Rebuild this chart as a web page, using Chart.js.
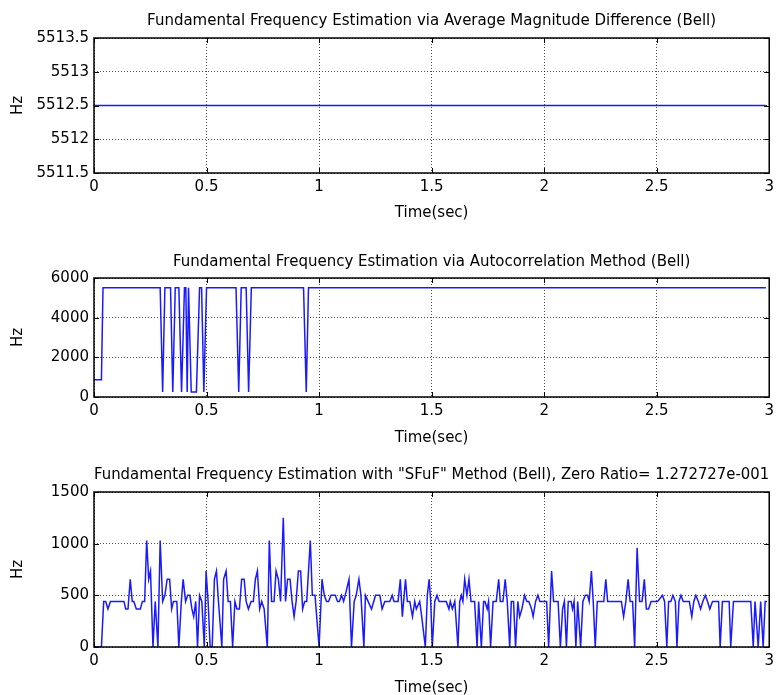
<!DOCTYPE html>
<html>
<head>
<meta charset="utf-8">
<script src="https://cdn.jsdelivr.net/npm/chart.js@4.4.0/dist/chart.umd.min.js"></script>
<style>
  html, body { margin: 0; padding: 0; background: #fff; }
  #page { position: relative; width: 779px; height: 695px; overflow: hidden; }
  .panel { position: absolute; left: 0; }
</style>
</head>
<body>
<div id="page">
  <div class="panel" style="top:0px"><canvas id="chartAmdf" width="779" height="225"></canvas></div>
  <div class="panel" style="top:240px"><canvas id="chartAcf" width="779" height="210"></canvas></div>
  <div class="panel" style="top:454px"><canvas id="chartSfuf" width="779" height="243"></canvas></div>
</div>
<script>
// tick values
const timeTicks = [0, 0.5, 1, 1.5, 2, 2.5, 3];
const amdfTicks = [5511.5, 5512, 5512.5, 5513, 5513.5];
const acfTicks = [0, 2000, 4000, 6000];
const sfufTicks = [0, 500, 1000, 1500];

// AMDF estimate: flat over the whole file
const amdfTime = [0, 2.985];
const amdfHz = [5512.5, 5512.5];

// autocorrelation estimate (break points of the trace)
const acfTime = [0, 0.033, 0.040, 0.294, 0.305, 0.315, 0.340, 0.350, 0.361, 0.377,
  0.389, 0.402, 0.408, 0.414, 0.420, 0.432, 0.455, 0.469, 0.478, 0.488,
  0.500, 0.631, 0.643, 0.654, 0.676, 0.687, 0.699, 0.931, 0.943, 0.953, 2.985];
const acfHz = [870, 870, 5512.5, 5512.5, 250, 5512.5, 5512.5, 250, 5512.5, 5512.5,
  250, 5512.5, 5512.5, 250, 5512.5, 250, 250, 5512.5, 5512.5, 250,
  5512.5, 5512.5, 250, 5512.5, 5512.5, 250, 5512.5, 5512.5, 250, 5512.5, 5512.5];

// SFuF estimate
const sfufTime = [0, 0.033, 0.043, 0.052, 0.062, 0.073, 0.133, 0.141, 0.151, 0.161,
  0.170, 0.177, 0.188, 0.206, 0.215, 0.225, 0.234, 0.243, 0.251, 0.262,
  0.272, 0.284, 0.294, 0.305, 0.315, 0.325, 0.336, 0.345, 0.353, 0.368,
  0.377, 0.388, 0.396, 0.407, 0.416, 0.426, 0.435, 0.443, 0.452, 0.460,
  0.469, 0.479, 0.490, 0.498, 0.507, 0.516, 0.525, 0.535, 0.544, 0.553,
  0.568, 0.576, 0.587, 0.596, 0.606, 0.616, 0.626, 0.635, 0.646, 0.656,
  0.667, 0.676, 0.686, 0.698, 0.708, 0.717, 0.726, 0.736, 0.745, 0.756,
  0.770, 0.779, 0.789, 0.800, 0.809, 0.819, 0.829, 0.841, 0.851, 0.860,
  0.871, 0.880, 0.889, 0.898, 0.908, 0.918, 0.927, 0.936, 0.945, 0.961,
  0.970, 0.982, 1.000, 1.013, 1.023, 1.033, 1.042, 1.053, 1.072, 1.082,
  1.090, 1.100, 1.109, 1.116, 1.133, 1.144, 1.156, 1.165, 1.177, 1.186,
  1.199, 1.206, 1.233, 1.251, 1.270, 1.280, 1.292, 1.314, 1.325, 1.333,
  1.351, 1.361, 1.370, 1.384, 1.392, 1.403, 1.415, 1.425, 1.432, 1.447,
  1.456, 1.472, 1.481, 1.489, 1.496, 1.503, 1.514, 1.524, 1.533, 1.565,
  1.577, 1.583, 1.592, 1.603, 1.617, 1.625, 1.632, 1.639, 1.647, 1.657,
  1.666, 1.675, 1.691, 1.702, 1.709, 1.721, 1.731, 1.737, 1.747, 1.753,
  1.762, 1.773, 1.787, 1.798, 1.805, 1.817, 1.827, 1.836, 1.847, 1.854,
  1.864, 1.873, 1.883, 1.891, 1.901, 1.913, 1.923, 1.932, 1.944, 1.951,
  1.962, 1.972, 1.981, 2.011, 2.020, 2.033, 2.042, 2.062, 2.072, 2.082,
  2.090, 2.099, 2.107, 2.120, 2.126, 2.133, 2.141, 2.149, 2.162, 2.172,
  2.183, 2.193, 2.200, 2.210, 2.218, 2.227, 2.236, 2.265, 2.274, 2.282,
  2.343, 2.353, 2.363, 2.373, 2.382, 2.393, 2.402, 2.413, 2.424, 2.435,
  2.445, 2.454, 2.464, 2.475, 2.504, 2.526, 2.535, 2.545, 2.553, 2.563,
  2.572, 2.583, 2.590, 2.599, 2.608, 2.618, 2.645, 2.656, 2.665, 2.674,
  2.685, 2.695, 2.705, 2.716, 2.726, 2.736, 2.748, 2.775, 2.782, 2.792,
  2.822, 2.829, 2.841, 2.918, 2.929, 2.937, 2.951, 2.962, 2.973, 2.982,
  2.990];
const sfufHz = [0, 0, 441, 441, 368, 441, 441, 368, 368, 656,
  441, 441, 368, 368, 441, 441, 1030, 656, 735, 0,
  441, 0, 1030, 441, 500, 656, 656, 368, 441, 441,
  0, 441, 656, 441, 500, 500, 368, 294, 441, 0,
  500, 441, 0, 735, 441, 0, 0, 656, 735, 441,
  0, 656, 735, 441, 441, 0, 441, 368, 368, 656,
  656, 441, 368, 441, 441, 656, 735, 368, 441, 368,
  0, 1030, 441, 441, 735, 656, 441, 1250, 441, 656,
  656, 441, 294, 441, 735, 735, 368, 441, 441, 1030,
  500, 500, 0, 656, 500, 441, 441, 500, 500, 441,
  441, 500, 441, 500, 656, 0, 441, 500, 656, 500,
  0, 500, 368, 500, 500, 368, 441, 441, 500, 441,
  441, 656, 294, 656, 441, 441, 294, 441, 368, 441,
  294, 0, 500, 656, 441, 0, 441, 500, 441, 441,
  368, 441, 368, 441, 0, 441, 500, 441, 656, 500,
  656, 441, 441, 0, 441, 0, 441, 441, 368, 441,
  0, 441, 441, 656, 441, 441, 656, 441, 0, 441,
  441, 0, 441, 294, 368, 500, 441, 441, 368, 294,
  441, 500, 441, 441, 0, 735, 441, 441, 0, 368,
  441, 0, 441, 441, 368, 441, 0, 441, 0, 441,
  500, 500, 441, 735, 441, 0, 441, 441, 656, 441,
  441, 294, 441, 656, 441, 441, 0, 960, 441, 441,
  656, 368, 368, 441, 441, 500, 441, 0, 441, 441,
  500, 441, 0, 441, 500, 441, 441, 294, 441, 500,
  441, 368, 441, 500, 441, 368, 441, 441, 0, 441,
  441, 0, 441, 441, 0, 441, 0, 441, 0, 441,
  441];

const FONT = "'DejaVu Sans', sans-serif";
Chart.defaults.font.family = FONT;
Chart.defaults.font.size = 15;
Chart.defaults.color = '#000';

function toPoints(times, values) {
  return times.map((t, i) => ({ x: t, y: values[i] }));
}

function tickList(values) {
  return scale => { scale.ticks = values.map(v => ({ value: v })); };
}

// black box with short inward tick marks on all four sides
const axesBox = {
  id: 'axesBox',
  afterDatasetsDraw(chart) {
    const { ctx, chartArea: a, scales } = chart;
    const len = 5;
    ctx.save();
    ctx.strokeStyle = '#000';
    ctx.lineWidth = 1;
    ctx.beginPath();
    scales.x.ticks.forEach(t => {
      const px = Math.round(scales.x.getPixelForValue(t.value)) + 0.5;
      ctx.moveTo(px, a.bottom); ctx.lineTo(px, a.bottom - len);
      ctx.moveTo(px, a.top); ctx.lineTo(px, a.top + len);
    });
    scales.y.ticks.forEach(t => {
      const py = Math.round(scales.y.getPixelForValue(t.value)) + 0.5;
      ctx.moveTo(a.left, py); ctx.lineTo(a.left + len, py);
      ctx.moveTo(a.right, py); ctx.lineTo(a.right - len, py);
    });
    ctx.stroke();
    ctx.lineWidth = 1.5;
    ctx.strokeRect(a.left, a.top, a.right - a.left, a.bottom - a.top);
    ctx.restore();
  }
};

function makePanel(id, cfg) {
  const gridOpts = { color: 'rgba(0,0,0,0.7)', lineWidth: 1, drawTicks: false };
  const borderOpts = { display: false, dash: [1, 2] };
  return new Chart(document.getElementById(id), {
    type: 'line',
    data: {
      datasets: [{
        data: toPoints(cfg.time, cfg.hz),
        borderColor: '#1a1aff',
        borderWidth: 1.5,
        pointRadius: 0,
        tension: 0,
        fill: false
      }]
    },
    options: {
      responsive: false,
      animation: false,
      events: [],
      layout: { padding: { left: 0, right: 8, top: 0, bottom: 0 } },
      plugins: {
        legend: { display: false },
        tooltip: { enabled: false },
        title: {
          display: true,
          text: cfg.title,
          fullSize: false,
          color: '#000',
          font: { size: 15, weight: 'normal' },
          padding: { top: cfg.titleTop, bottom: cfg.titleBottom }
        }
      },
      scales: {
        x: {
          type: 'linear',
          min: 0,
          max: 3,
          afterBuildTicks: tickList(timeTicks),
          afterFit: s => { s.height = cfg.xHeight; },
          ticks: { padding: 5, maxRotation: 0, autoSkip: false, callback: v => String(v) },
          grid: gridOpts,
          border: borderOpts,
          title: { display: true, text: 'Time(sec)', padding: { top: 0, bottom: cfg.xTitleBottom } }
        },
        y: {
          type: 'linear',
          min: cfg.ticks[0],
          max: cfg.ticks[cfg.ticks.length - 1],
          afterBuildTicks: tickList(cfg.ticks),
          afterFit: s => { s.width = 94; },
          ticks: { padding: 5, callback: v => String(v) },
          grid: gridOpts,
          border: borderOpts,
          title: { display: true, text: 'Hz', padding: { top: 9, bottom: 0 } }
        }
      }
    },
    plugins: [axesBox]
  });
}

makePanel('chartAmdf', {
  title: 'Fundamental Frequency Estimation via Average Magnitude Difference (Bell)',
  time: amdfTime, hz: amdfHz, ticks: amdfTicks,
  titleTop: 12, titleBottom: 8, xHeight: 52, xTitleBottom: 2.5
});

makePanel('chartAcf', {
  title: 'Fundamental Frequency Estimation via Autocorrelation Method (Bell)',
  time: acfTime, hz: acfHz, ticks: acfTicks,
  titleTop: 13, titleBottom: 7, xHeight: 53, xTitleBottom: 3
});

makePanel('chartSfuf', {
  title: 'Fundamental Frequency Estimation with "SFuF" Method (Bell), Zero Ratio= 1.272727e-001',
  time: sfufTime, hz: sfufHz, ticks: sfufTicks,
  titleTop: 12.5, titleBottom: 7.5, xHeight: 50, xTitleBottom: 0
});
</script>
</body>
</html>
